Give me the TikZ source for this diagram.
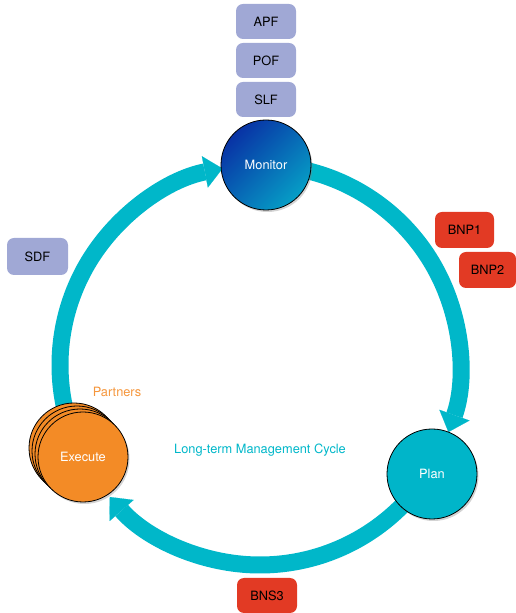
\documentclass[tikz,border=0pt]{standalone}
\usepackage{fontspec}
\setmainfont{TeX Gyre Heros}
\usetikzlibrary{arrows.meta,shadows,calc}

\definecolor{cyclecol}{RGB}{0,183,201}
\definecolor{lavender}{RGB}{160,168,213}
\definecolor{bnred}{RGB}{226,58,36}
\definecolor{execorange}{RGB}{243,139,38}
\definecolor{partnerorange}{RGB}{245,150,60}
\definecolor{mondark}{RGB}{8,50,165}
\definecolor{monlight}{RGB}{6,158,198}
\definecolor{plancol}{RGB}{0,181,201}

\begin{document}
\begin{tikzpicture}[x=1pt,y=1pt,
  tag/.style={rounded corners=7pt, minimum width=60pt, minimum height=35pt,
    inner sep=0pt, text=black, font=\fontsize{12.8}{15}\selectfont},
  factag/.style={tag, fill=lavender},
  bntag/.style={tag, fill=bnred},
  stage/.style={circle, draw=black, line width=0.8pt, minimum size=90pt,
    inner sep=0pt, text=white, font=\fontsize{12.8}{15}\selectfont,
    drop shadow={opacity=0.35, shadow xshift=1.5pt, shadow yshift=-2pt}},
  flow/.style={draw=cyclecol, line width=17pt,
    -{Triangle[length=18pt, width=32pt, line width=0.1pt, fill=cyclecol]}},
  caption/.style={font=\fontsize{12.8}{15}\selectfont}
]
\useasboundingbox (0,0) rectangle (515,613);

% centre of the management cycle
\coordinate (hub) at (260,248);

% the three arcs of the cycle, clockwise
\draw[flow] ($(hub)+(85:200)$) arc[start angle=85, end angle=-19.6, radius=200];
\draw[flow] ($(hub)+(-35:200)$) arc[start angle=-35, end angle=-138.7, radius=200];
\draw[flow] ($(hub)+(205:200)$) arc[start angle=205, end angle=100.8, radius=200];

% stages
\node[stage, top color=mondark, bottom color=monlight, shading angle=45]
  (monitor) at (266,448) {Monitor};
\node[stage, fill=plancol] (plan) at (432,139) {Plan};
\foreach \k in {3,2,1}
  \node[stage, fill=execorange] (exec-\k) at (83-3*\k,156+3*\k) {};
\node[stage, fill=execorange] (execute) at (83,156) {Execute};

% feeds into monitoring
\node[factag] (apf) at (266,591.5) {APF};
\node[factag] (pof) at (266,552.5) {POF};
\node[factag] (slf) at (266,513.5) {SLF};
\node[factag, minimum width=61pt, minimum height=37pt] (sdf) at (37.5,356.5) {SDF};

% business needs
\node[bntag, minimum width=59pt, minimum height=36pt] (bnp1) at (464.5,383) {BNP1};
\node[bntag, minimum width=57pt, minimum height=36pt] (bnp2) at (487.5,343) {BNP2};
\node[bntag] (bns3) at (267,17.5) {BNS3};

% captions
\node[caption, text=partnerorange] (partners) at (117,221) {Partners};
\node[caption, text=cyclecol] (cycle) at (260,163) {Long-term Management Cycle};
\end{tikzpicture}
\end{document}
